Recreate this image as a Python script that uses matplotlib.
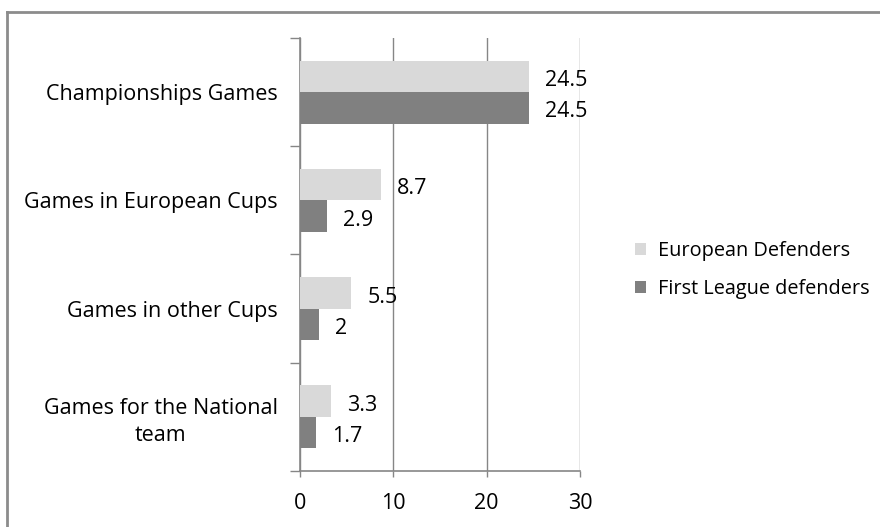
import matplotlib.pyplot as plt
from matplotlib.lines import Line2D

plt.rcParams['font.family'] = ['Open Sans', 'DejaVu Sans']

# 比赛类别（自上而下）
categories = ['Championships Games', 'Games in European Cups',
              'Games in other Cups', 'Games for the National\nteam']
european = [24.5, 8.7, 5.5, 3.3]
first_league = [24.5, 2.9, 2.0, 1.7]
series_names = ['European Defenders', 'First League defenders']
xticks = [0, 10, 20, 30]

light = '#d9d9d9'
dark = '#808080'
grid_c = '#868686'
fs = 15.5

fig = plt.figure(figsize=(8.8, 5.27), dpi=100)
ax = fig.add_axes([300 / 880, 56 / 527, 280 / 880, 433 / 527])

n = len(categories)
pos = [n - 1 - i for i in range(n)]
h = 0.29
b1 = ax.barh([p + h / 2 for p in pos], european, height=h, color=light, label=series_names[0], zorder=3)
b2 = ax.barh([p - h / 2 for p in pos], first_league, height=h, color=dark, label=series_names[1], zorder=3)

for bars, vals in ((b1, european), (b2, first_league)):
    for r, v in zip(bars, vals):
        ax.annotate('%g' % v, (v, r.get_y() + r.get_height() / 2),
                    xytext=(11.5, -3), textcoords='offset points',
                    ha='left', va='center', fontsize=fs)

ax.set_xlim(0, 30)
ax.set_ylim(-0.5, n - 0.5)
ax.set_xticks(xticks)
ax.set_xticklabels([str(t) for t in xticks], fontsize=fs)
ax.xaxis.grid(True, color=grid_c, lw=1.0, zorder=0)
ax.tick_params(axis='x', length=4.5, width=1, color=grid_c, pad=11)

# y 轴刻度在类别分界处，标签放在类别中心
ax.set_yticks([p - 0.5 for p in range(n + 1)])
ax.set_yticklabels([])
ax.tick_params(axis='y', which='major', length=7, width=1, color=grid_c)
ax.set_yticks(pos, minor=True)
ax.set_yticklabels(categories, minor=True, fontsize=fs,
                   multialignment='center', linespacing=1.35)
ax.tick_params(axis='y', which='minor', length=0, pad=16)

for s in ['top', 'right']:
    ax.spines[s].set_visible(False)
for s in ['left', 'bottom']:
    ax.spines[s].set_color(grid_c)
    ax.spines[s].set_linewidth(1.2)

fig.legend(handles=[b1, b2], labels=series_names, loc='center left',
           bbox_to_anchor=(617 / 880, 1 - 270 / 527), frameon=False,
           fontsize=14.3, handlelength=0.55, handleheight=0.55,
           handletextpad=0.6, labelspacing=0.95)

# 外框
fig.add_artist(Line2D([7 / 880, 1], [1 - 12 / 527] * 2, color='#8c8c8c', lw=2))
fig.add_artist(Line2D([7 / 880] * 2, [0, 1 - 12 / 527], color='#8c8c8c', lw=2))

fig.savefig('out.png', dpi=100)
